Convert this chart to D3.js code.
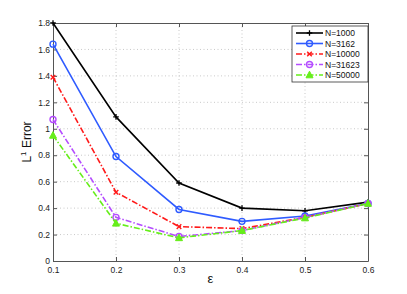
<!DOCTYPE html>
<html>
<head>
<meta charset="utf-8">
<script src="https://cdn.jsdelivr.net/npm/d3@7"></script>
<style>
  body { margin: 0; background: #fff; }
  svg { display: block; font-family: "Liberation Sans", Arial, sans-serif; }
</style>
</head>
<body>
<div id="chart"></div>
<script>
// data
const epsilons = [0.1, 0.2, 0.3, 0.4, 0.5, 0.6];
const seriesNames = ["N=1000", "N=3162", "N=10000", "N=31623", "N=50000"];
const err1000  = [1.80, 1.09, 0.59, 0.40, 0.38, 0.445];
const err3162  = [1.64, 0.79, 0.39, 0.30, 0.34, 0.435];
const err10000 = [1.39, 0.52, 0.26, 0.245, 0.33, 0.435];
const err31623 = [1.07, 0.33, 0.185, 0.23, 0.33, 0.435];
const err50000 = [0.95, 0.285, 0.175, 0.23, 0.325, 0.435];
const xTicks = [0.1, 0.2, 0.3, 0.4, 0.5, 0.6];
const yTicks = [0, 0.2, 0.4, 0.6, 0.8, 1, 1.2, 1.4, 1.6, 1.8];

const allSeries = [err1000, err3162, err10000, err31623, err50000];
const colors = ["#000000", "#2f5bff", "#ff1a1a", "#b44cff", "#66ee1a"];
const dashes = [null, null, "6,2,1.5,2", "6,2,1.5,2", "6,2,1.5,2"];
const markers = ["plus", "circle", "cross", "circle", "triangle"];

const width = 407, height = 294;
const pLeft = 53, pRight = 368, pTop = 23, pBottom = 261;

const svg = d3.select("#chart").append("svg")
  .attr("width", width)
  .attr("height", height);

const x = d3.scaleLinear().domain([0.1, 0.6]).range([pLeft, pRight]);
const y = d3.scaleLinear().domain([0, 1.8]).range([pBottom, pTop]);

// grid
svg.append("g").selectAll("line")
  .data(xTicks.slice(1, -1)).enter()
  .append("line")
  .attr("x1", d => x(d)).attr("x2", d => x(d))
  .attr("y1", pTop).attr("y2", pBottom)
  .attr("stroke", "#bbb").attr("stroke-width", 0.8)
  .attr("stroke-dasharray", "1,2.5");
svg.append("g").selectAll("line")
  .data(yTicks.slice(1, -1)).enter()
  .append("line")
  .attr("x1", pLeft).attr("x2", pRight)
  .attr("y1", d => y(d)).attr("y2", d => y(d))
  .attr("stroke", "#bbb").attr("stroke-width", 0.8)
  .attr("stroke-dasharray", "1,2.5");

// axes
svg.append("g")
  .attr("transform", "translate(0," + pBottom + ")")
  .call(d3.axisBottom(x).tickValues(xTicks).tickFormat(d3.format("~g")).tickSizeInner(-4).tickSizeOuter(0).tickPadding(6));
svg.append("g")
  .attr("transform", "translate(" + pLeft + ",0)")
  .call(d3.axisLeft(y).tickValues(yTicks).tickFormat(d3.format("~g")).tickSizeInner(-4).tickSizeOuter(0).tickPadding(3));
svg.append("g")
  .attr("transform", "translate(0," + pTop + ")")
  .call(d3.axisTop(x).tickValues(xTicks).tickSizeInner(-4).tickSizeOuter(0).tickFormat(""));
svg.append("g")
  .attr("transform", "translate(" + pRight + ",0)")
  .call(d3.axisRight(y).tickValues(yTicks).tickSizeInner(-4).tickSizeOuter(0).tickFormat(""));

svg.selectAll(".domain").attr("stroke", "#555").attr("stroke-width", 1);
svg.selectAll(".tick line").attr("stroke", "#555");
svg.selectAll(".tick text").attr("font-size", 8.5).attr("fill", "#222")
  .attr("font-family", "Liberation Sans, Arial, sans-serif");

// lines
const line = d3.line().x((d, i) => x(epsilons[i])).y(d => y(d));

function drawMarker(g, type, color) {
  if (type === "plus") {
    g.append("path").attr("d", "M-2.8,0H2.8M0,-2.8V2.8").attr("stroke", color).attr("stroke-width", 1.3);
  } else if (type === "circle") {
    g.append("circle").attr("r", 3).attr("fill", "none").attr("stroke", color).attr("stroke-width", 1.4);
  } else if (type === "cross") {
    g.append("path").attr("d", "M-2.3,-2.3L2.3,2.3M-2.3,2.3L2.3,-2.3").attr("stroke", color).attr("stroke-width", 1.4);
  } else if (type === "triangle") {
    g.append("path").attr("d", "M0,-3.8L3.5,2.8L-3.5,2.8Z").attr("fill", color).attr("stroke", color).attr("stroke-width", 1);
  }
}

allSeries.forEach((vals, s) => {
  svg.append("path")
    .datum(vals)
    .attr("d", line)
    .attr("fill", "none")
    .attr("stroke", colors[s])
    .attr("stroke-width", 1.6)
    .attr("stroke-dasharray", dashes[s]);
  vals.forEach((v, i) => {
    const g = svg.append("g").attr("transform", "translate(" + x(epsilons[i]) + "," + y(v) + ")");
    drawMarker(g, markers[s], colors[s]);
  });
});

// legend
const lg = svg.append("g").attr("transform", "translate(292,26)");
lg.append("rect").attr("width", 76).attr("height", 56)
  .attr("fill", "#fff").attr("stroke", "#333").attr("stroke-width", 0.8);
seriesNames.forEach((name, s) => {
  const yy = 7 + s * 10.5;
  lg.append("line").attr("x1", 4).attr("x2", 31).attr("y1", yy).attr("y2", yy)
    .attr("stroke", colors[s]).attr("stroke-width", 1.6)
    .attr("stroke-dasharray", dashes[s]);
  const g = lg.append("g").attr("transform", "translate(17.5," + yy + ")");
  drawMarker(g, markers[s], colors[s]);
  lg.append("text").attr("x", 33).attr("y", yy + 3)
    .attr("font-size", 8.5).attr("fill", "#111").text(name);
});

// axis titles
const yl = svg.append("text")
  .attr("transform", "translate(31," + ((pTop + pBottom) / 2) + ") rotate(-90)")
  .attr("text-anchor", "middle")
  .attr("font-size", 12).attr("fill", "#111");
yl.append("tspan").text("L");
yl.append("tspan").attr("dy", -5).attr("font-size", 8).text("1");
yl.append("tspan").attr("dy", 5).text(" Error");

svg.append("text")
  .attr("x", (pLeft + pRight) / 2).attr("y", 283)
  .attr("text-anchor", "middle")
  .attr("font-size", 13).attr("fill", "#111")
  .text("ε");
</script>
</body>
</html>
